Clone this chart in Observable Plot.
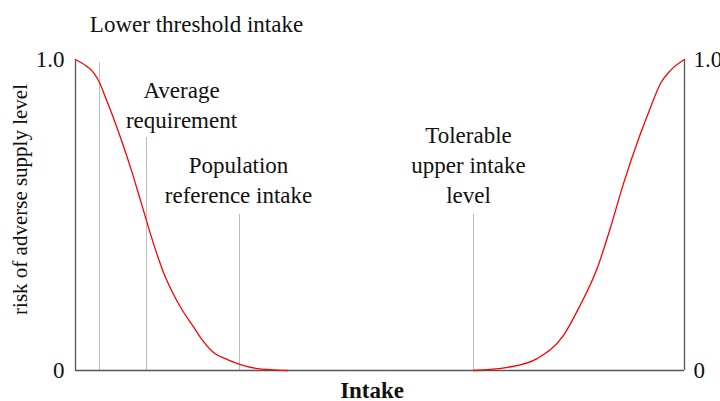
<!DOCTYPE html>
<html>
<head>
<meta charset="utf-8">
<script src="https://cdn.jsdelivr.net/npm/d3@7"></script>
<script src="https://cdn.jsdelivr.net/npm/@observablehq/plot@0.6"></script>
<style>
  html, body { margin: 0; padding: 0; background: #fff; }
  svg { display: block; }
  #fig svg text, #fig svg tspan { font-family: "Liberation Serif" !important; }
</style>
</head>
<body>
<div id="fig"></div>
<script>
// Left risk curve (deficiency): intake (0-100 scale) vs risk (0-1)
const lowIntake = [0, 1.64, 2.96, 3.94, 4.93, 6.08, 7.39, 9.03, 10.67, 12.81, 14.45, 15.93, 17.57, 19.21, 20.53, 22.66, 24.96, 27.09, 29.89, 32.02, 34.81];
const lowRisk   = [1.0, 0.981, 0.958, 0.926, 0.878, 0.820, 0.749, 0.653, 0.547, 0.408, 0.315, 0.251, 0.193, 0.145, 0.106, 0.058, 0.035, 0.019, 0.006, 0.003, 0.0];
// Right risk curve (excess)
const highIntake = [65.35, 70.94, 75.86, 80.13, 82.59, 85.71, 87.85, 89.98, 92.78, 94.42, 96.06, 97.70, 100];
const highRisk   = [0.0, 0.010, 0.039, 0.113, 0.199, 0.331, 0.460, 0.601, 0.762, 0.846, 0.923, 0.965, 1.0];

// Reference markers
const markerNames  = ["Lower threshold intake", "Average\nrequirement", "Population\nreference intake", "Tolerable\nupper intake\nlevel"];
const markerIntake = [3.94, 11.66, 26.93, 65.35];
const markerTop    = [0.99, 0.749, 0.502, 0.502];
const labelIntake  = [19.87, 17.41, 26.77, 64.53];
const labelRisk    = [1.119, 0.859, 0.618, 0.666];

const yTicks = [0, 1];
const yTickLabels = ["0", "1.0"];
const yTitle = "risk of adverse supply level";
const xTitle = "Intake";

const low = lowIntake.map((x, i) => ({x, y: lowRisk[i]}));
const high = highIntake.map((x, i) => ({x, y: highRisk[i]}));
const markers = markerNames.map((name, i) => ({name, x: markerIntake[i], top: markerTop[i], lx: labelIntake[i], ly: labelRisk[i]}));

const font = "Liberation Serif";

const chart = Plot.plot({
  width: 720,
  height: 401,
  marginTop: 59,
  marginBottom: 31,
  marginLeft: 75,
  marginRight: 36,
  style: {fontFamily: font, fontSize: "23px", color: "#111", background: "#fff"},
  x: {domain: [0, 100], axis: null},
  y: {domain: [0, 1], axis: null},
  marks: [
    Plot.ruleX(markers, {x: "x", y1: 0, y2: "top", stroke: "#bdbdbd", strokeWidth: 1}),
    Plot.ruleX([0, 100], {stroke: "#555", strokeWidth: 1.3}),
    Plot.ruleY([0], {stroke: "#555", strokeWidth: 1.3}),
    Plot.line(low, {x: "x", y: "y", stroke: "#ff0000", strokeWidth: 1.3, curve: "monotone-x"}),
    Plot.line(high, {x: "x", y: "y", stroke: "#ff0000", strokeWidth: 1.3, curve: "monotone-x"}),
    Plot.text(yTicks, {y: d => d, text: (d, i) => yTickLabels[i], frameAnchor: "left", textAnchor: "end", dx: -11, fontSize: 23, fontFamily: font, fill: "#111"}),
    Plot.text(yTicks, {y: d => d, text: (d, i) => yTickLabels[i], frameAnchor: "right", textAnchor: "start", dx: 9, fontSize: 23, fontFamily: font, fill: "#111"}),
    Plot.text(markers, {x: "lx", y: "ly", text: "name", fontSize: 23, fontFamily: font, lineHeight: 1.3, lineAnchor: "middle", fill: "#111"}),
    Plot.text([yTitle], {y: [0.55], frameAnchor: "left", textAnchor: "middle", dx: -55, rotate: -90, fontSize: 21, fontFamily: font, fill: "#111"}),
    Plot.text([xTitle], {x: [48.7], y: [-0.064], fontSize: 23, fontFamily: font, fontWeight: "bold", fill: "#111"})
  ]
});
document.getElementById("fig").appendChild(chart);
</script>
</body>
</html>
